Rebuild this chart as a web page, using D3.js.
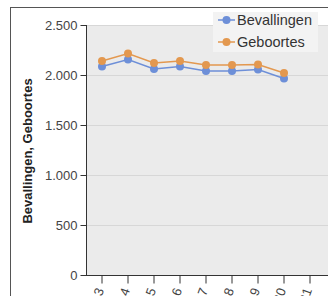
<!DOCTYPE html>
<html><head><meta charset="utf-8">
<script src="https://cdn.jsdelivr.net/npm/d3@7"></script>
<style>body{margin:0;background:#fff}svg{display:block;font-family:Arial,"Liberation Sans",sans-serif}</style>
</head><body><svg id="c" width="328" height="296"></svg>
<script>
const years = ["2013","2014","2015","2016","2017","2018","2019","2020","2021"];
const bevallingen = [2085,2155,2060,2085,2040,2040,2055,1965,null];
const geboortes = [2140,2215,2120,2140,2100,2100,2105,2020,null];
const yTicks = [0,500,1000,1500,2000,2500];
const seriesNames = ["Bevallingen","Geboortes"];
const colors = ["#6d8fd8","#e3984f"];

const svg = d3.select("#c");
const L = 86, T = 25, B = 275, R = 328;
const x = d3.scaleBand().domain(years).range([89, 323]);
const y = d3.scaleLinear().domain([0,2500]).range([B, T]);
const fmt = v => d3.format(",")(v).replace(/,/g, ".");
const FF = "Arial,'Liberation Sans',sans-serif";

// outer frame
svg.append("rect").attr("x",10.5).attr("y",7.5).attr("width",340).attr("height",320)
  .attr("fill","none").attr("stroke","#555");

// plot background
svg.append("rect").attr("x",L).attr("y",T).attr("width",R-L).attr("height",B-T).attr("fill","#ebebeb");
// gridlines
svg.append("g").selectAll("line").data(yTicks.filter(d=>d>0)).join("line")
  .attr("x1",L).attr("x2",R).attr("y1",d=>y(d)+0.5).attr("y2",d=>y(d)+0.5)
  .attr("stroke","#d7d7d7");

// y axis
const ya = svg.append("g").attr("transform",`translate(${L+0.5},0)`)
  .call(d3.axisLeft(y).tickValues(yTicks).tickFormat(fmt).tickSize(6).tickPadding(3));
ya.select(".domain").attr("stroke","#333").attr("d",`M0,${T}V${B}`);
ya.selectAll(".tick line").attr("stroke","#333");
ya.selectAll("text").attr("fill","#444").attr("font-size","13px").attr("font-family",FF);

// x axis
const xa = svg.append("g").attr("transform",`translate(0,${B+0.5})`)
  .call(d3.axisBottom(x).tickSize(8).tickPadding(4));
xa.select(".domain").attr("stroke","#333").attr("d",`M${L},0H${R}`);
xa.selectAll(".tick line").attr("stroke","#333");
xa.selectAll("text").attr("fill","#444").attr("font-size","13px").attr("font-family",FF)
  .attr("text-anchor","end").attr("dy","0.35em")
  .attr("transform","translate(-2,13) rotate(-70)").attr("x",0).attr("y",0);

// axis title
svg.append("text").attr("transform","translate(32,151) rotate(-90)")
  .attr("text-anchor","middle").attr("font-size","13px").attr("font-weight","bold").attr("fill","#222")
  .attr("font-family",FF).text("Bevallingen, Geboortes");

// lines & points
[bevallingen, geboortes].forEach((vals,i)=>{
  const data = years.map((yr,j)=>({yr, v:vals[j]})).filter(d=>d.v!=null);
  svg.append("path").datum(data)
    .attr("d", d3.line().x(d=>x(d.yr)+x.bandwidth()/2).y(d=>y(d.v)))
    .attr("fill","none").attr("stroke",colors[i]).attr("stroke-width",1.5);
  svg.append("g").selectAll("circle").data(data).join("circle")
    .attr("cx",d=>x(d.yr)+x.bandwidth()/2).attr("cy",d=>y(d.v)).attr("r",4)
    .attr("fill",colors[i]);
});

// legend
const lg = svg.append("g");
lg.append("rect").attr("x",213).attr("y",12).attr("width",105).attr("height",40).attr("fill","#f3f3f3");
seriesNames.forEach((n,i)=>{
  const cy = 20 + i*22;
  lg.append("line").attr("x1",218).attr("x2",235).attr("y1",cy).attr("y2",cy).attr("stroke",colors[i]).attr("stroke-width",1.5);
  lg.append("circle").attr("cx",226.5).attr("cy",cy).attr("r",4).attr("fill",colors[i]);
  lg.append("text").attr("x",237).attr("y",cy).attr("dy","0.36em").attr("font-size","14.5px").attr("font-family",FF)
    .attr("fill","#333").text(n);
});
</script></body></html>
